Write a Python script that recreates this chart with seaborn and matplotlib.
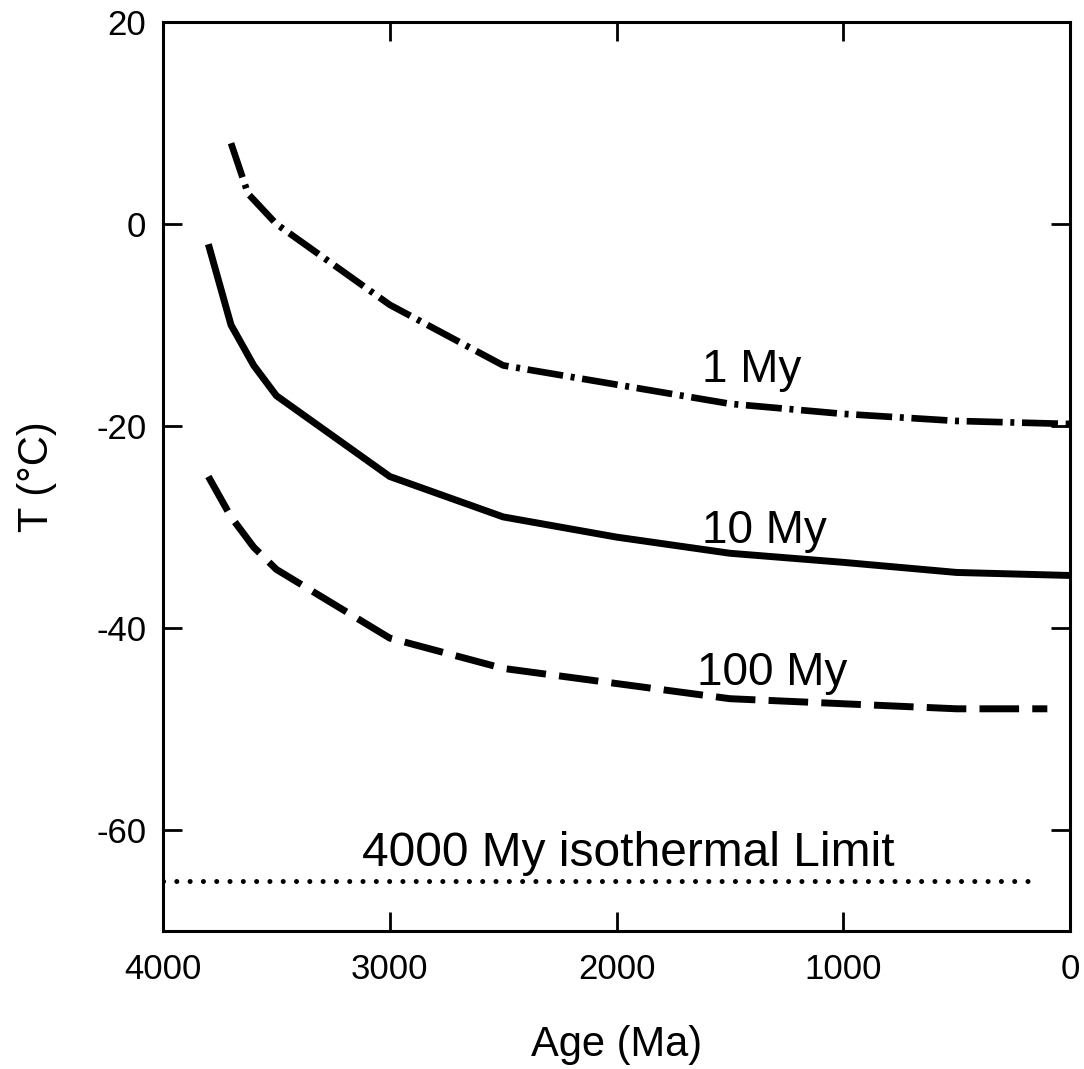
import matplotlib
matplotlib.use("Agg")
import matplotlib.pyplot as plt
import seaborn as sns
import pandas as pd

# ---- data ----
age_1my = [3700, 3625, 3500, 3000, 2500, 1500, 1000, 500, 0]
t_1my = [8, 3, 0, -8, -14, -17.8, -18.8, -19.5, -19.8]

age_10my = [3800, 3700, 3600, 3500, 3000, 2500, 2000, 1500, 1000, 500, 0]
t_10my = [-2, -10, -14, -17, -25, -29, -31, -32.6, -33.5, -34.5, -34.8]

age_100my = [3800, 3700, 3600, 3500, 3000, 2500, 2000, 1500, 1000, 500, 100]
t_100my = [-25, -29, -32, -34.2, -41, -44, -45.5, -47, -47.5, -48, -48]

age_iso = [4000, 140]
t_iso = [-65, -65]

xticks = [4000, 3000, 2000, 1000, 0]
yticks = [20, 0, -20, -40, -60]

sns.set_style("ticks")
plt.rcParams['font.family'] = ['Liberation Sans', 'DejaVu Sans']
plt.rcParams['axes.unicode_minus'] = False
plt.rcParams['text.color'] = 'black'
plt.rcParams['axes.labelcolor'] = 'black'
plt.rcParams['xtick.color'] = 'black'
plt.rcParams['ytick.color'] = 'black'

fig = plt.figure(figsize=(10.84, 10.69), dpi=100)
ax = fig.add_axes([163/1084, 1-931/1069, (1070-163)/1084, (931-22)/1069])

def draw(xs, ys, ls, lw, cap='butt'):
    df = pd.DataFrame({"age": xs, "T": ys})
    sns.lineplot(data=df, x="age", y="T", ax=ax, color="black", linewidth=lw,
                 sort=False, estimator=None)
    ln = ax.get_lines()[-1]
    ln.set_linestyle(ls)
    ln.set_dash_capstyle(cap)
    ln.set_solid_capstyle('butt')
    ln.set_solid_joinstyle('round')
    ln.set_dash_joinstyle('round')
    return ln

draw(age_1my, t_1my, (0, (5.4, 1.15, 0.6, 1.15)), 4.8)
draw(age_10my, t_10my, '-', 5.0)
draw(age_100my, t_100my, (0, (5.7, 1.9)), 5.0)
draw(age_iso, t_iso, (0, (0.01, 2.65)), 3.6, cap='round')

ax.set_xlim(4000, 0)
ax.set_ylim(-70, 20)
ax.set_xticks(xticks)
ax.set_yticks(yticks)
ax.set_xticklabels([str(v) for v in xticks])
ax.set_yticklabels([str(v) for v in yticks])

for s in ax.spines.values():
    s.set_visible(True)
    s.set_linewidth(2.2)
    s.set_color("black")

ax.tick_params(axis='both', which='both', direction='in', length=13.7, width=2.0,
               top=True, right=True, labelsize=25, colors='black')
ax.tick_params(axis='x', pad=16)
ax.tick_params(axis='y', pad=12)

ax.set_xlabel("Age (Ma)", fontsize=30, labelpad=28, color='black')
ax.set_ylabel("T (\u00b0C)", fontsize=30, labelpad=28, color='black')

ann = 33
ax.text(1623, -15.6, "1 My", fontsize=ann, ha='left', va='baseline', color='black')
ax.text(1623, -31.6, "10 My", fontsize=ann, ha='left', va='baseline', color='black')
ax.text(1645, -45.6, "100 My", fontsize=ann, ha='left', va='baseline', color='black')
ax.text(3122, -63.6, "4000 My isothermal Limit", fontsize=34.5, ha='left',
        va='baseline', color='black')

fig.savefig("out.png", dpi=100, facecolor="white")
